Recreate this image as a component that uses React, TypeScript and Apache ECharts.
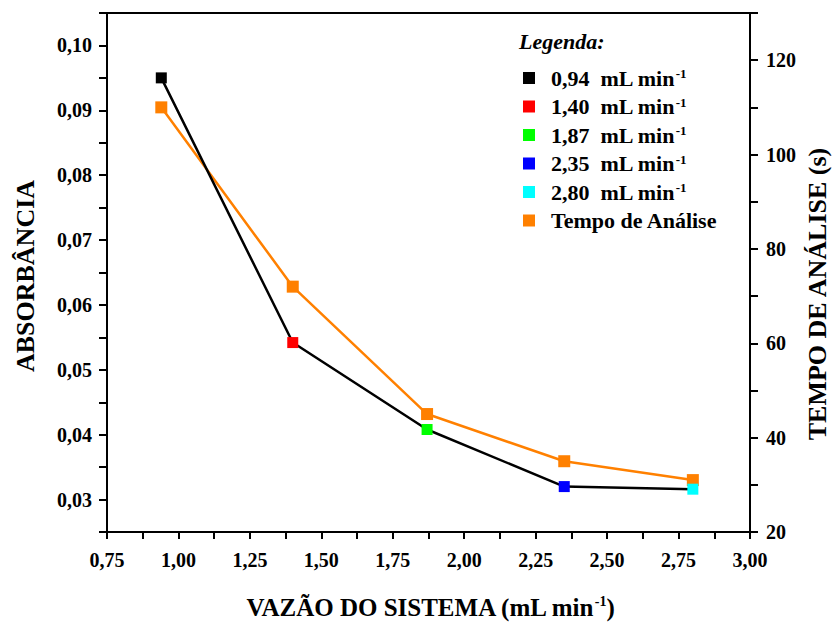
import React, { useEffect, useRef } from "react";
import * as echarts from "echarts";

const flowRates = [0.94, 1.4, 1.87, 2.35, 2.8];
const absorbance = [0.095, 0.0542, 0.0408, 0.032, 0.0316];
const analysisTime = [110, 72, 45, 35, 31];
const flowLabels = ["0,94", "1,40", "1,87", "2,35", "2,80"];
const pointColors = ["#000000", "#ff0000", "#00ff00", "#0000ff", "#00ffff"];
const timeName = "Tempo de Análise";

const FONT = "Liberation Serif";

const fmt = (v: number) => v.toFixed(2).replace(".", ",");
const isMult = (v: number, step: number) => Math.abs(v / step - Math.round(v / step)) < 1e-6;

export default function App() {
  const ref = useRef<HTMLDivElement>(null);
  useEffect(() => {
    document.body.style.margin = "0";
    if (!ref.current) return;
    const chart = echarts.init(ref.current, null, { renderer: "svg" });
    const scatterSeries = flowLabels.map((name, i) => ({
      name,
      type: "scatter",
      xAxisIndex: 0,
      yAxisIndex: 0,
      symbol: "rect",
      symbolSize: 11,
      itemStyle: { color: pointColors[i], opacity: 1 },
      data: [[flowRates[i], absorbance[i]]],
      z: 5,
    }));
    const labelStyle = {
      color: "#000",
      fontFamily: FONT,
      fontWeight: "bold",
      fontSize: 20,
    };
    const option: any = {
      animation: false,
      backgroundColor: "#ffffff",
      textStyle: { fontFamily: FONT, fontWeight: "bold" },
      grid: { left: 107, right: 83, top: 13, bottom: 92, show: true, borderColor: "#000", borderWidth: 2 },
      xAxis: {
        type: "value",
        min: 0.75,
        max: 3.0,
        interval: 0.125,
        axisLine: { lineStyle: { color: "#000", width: 2 } },
        axisTick: { inside: false, length: 7, lineStyle: { color: "#000", width: 2 } },
        splitLine: { show: false },
        axisLabel: {
          ...labelStyle,
          margin: 18,
          showMinLabel: true,
          showMaxLabel: true,
          formatter: (v: number) => (isMult(v, 0.25) ? fmt(v) : ""),
        },
      },
      yAxis: [
        {
          type: "value",
          position: "left",
          min: 0.025,
          max: 0.105,
          interval: 0.005,
          axisLine: { show: true, lineStyle: { color: "#000", width: 2 } },
          axisTick: { show: true, inside: false, length: 8, lineStyle: { color: "#000", width: 2 } },
          splitLine: { show: false },
          axisLabel: {
            ...labelStyle,
            margin: 15,
            formatter: (v: number) => (isMult(v, 0.01) ? fmt(v) : ""),
          },
        },
        {
          type: "value",
          position: "right",
          min: 20,
          max: 130,
          interval: 10,
          axisLine: { show: true, lineStyle: { color: "#000", width: 2 } },
          axisTick: { show: true, inside: false, length: 8, lineStyle: { color: "#000", width: 2 } },
          splitLine: { show: false },
          axisLabel: {
            ...labelStyle,
            margin: 16,
            formatter: (v: number) => (isMult(v, 20) ? String(v) : ""),
          },
        },
      ],
      legend: {
        left: 518,
        top: 62,
        orient: "vertical",
        icon: "rect",
        itemWidth: 12,
        itemHeight: 12,
        itemGap: 6.5,
        data: [...flowLabels, timeName],
        formatter: (name: string) =>
          name === timeName ? `{a|${name}}` : `{a|${name}  mL min}{s|-1}`,
        textStyle: {
          color: "#000",
          fontFamily: FONT,
          fontWeight: "bold",
          fontSize: 22,
          rich: {
            a: { fontFamily: FONT, fontWeight: "bold", fontSize: 22, lineHeight: 22, color: "#000", padding: [0, 0, 0, 11] },
            s: { fontFamily: FONT, fontWeight: "bold", fontSize: 13, lineHeight: 12, verticalAlign: "top", color: "#000" },
          },
        },
      },
      graphic: [
        {
          type: "text",
          left: 519,
          top: 30,
          style: { text: "Legenda:", font: `italic bold 22px ${FONT}`, fill: "#000" },
        },
        {
          type: "text",
          x: 25,
          y: 276,
          rotation: Math.PI / 2,
          style: {
            text: "ABSORBÂNCIA",
            font: `bold 26px ${FONT}`,
            fill: "#000",
            textAlign: "center",
            textVerticalAlign: "middle",
          },
        },
        {
          type: "text",
          x: 817,
          y: 294,
          rotation: Math.PI / 2,
          style: {
            text: "TEMPO DE ANÁLISE (s)",
            font: `bold 26px ${FONT}`,
            fill: "#000",
            textAlign: "center",
            textVerticalAlign: "middle",
          },
        },
        {
          type: "text",
          x: 430,
          y: 607,
          style: {
            text: "{a|VAZÃO DO SISTEMA (mL min}{s|-1}{a|)}",
            textAlign: "center",
            textVerticalAlign: "middle",
            rich: {
              a: { fontFamily: FONT, fontWeight: "bold", fontSize: 25, lineHeight: 26, fill: "#000" },
              s: { fontFamily: FONT, fontWeight: "bold", fontSize: 14, lineHeight: 14, verticalAlign: "top", fill: "#000" },
            },
          },
        },
      ],
      series: [
        {
          name: timeName,
          type: "line",
          xAxisIndex: 0,
          yAxisIndex: 1,
          symbol: "rect",
          symbolSize: 12,
          lineStyle: { color: "#ff8000", width: 2.5 },
          itemStyle: { color: "#ff8000" },
          data: flowRates.map((x, i) => [x, analysisTime[i]]),
          z: 2,
        },
        {
          name: "absorbanceLine",
          type: "line",
          xAxisIndex: 0,
          yAxisIndex: 0,
          symbol: "none",
          lineStyle: { color: "#000", width: 2.5 },
          data: flowRates.map((x, i) => [x, absorbance[i]]),
          z: 3,
        },
        ...scatterSeries,
      ],
    };
    chart.setOption(option);
    return () => chart.dispose();
  }, []);
  return <div ref={ref} style={{ width: 833, height: 624 }} />;
}
